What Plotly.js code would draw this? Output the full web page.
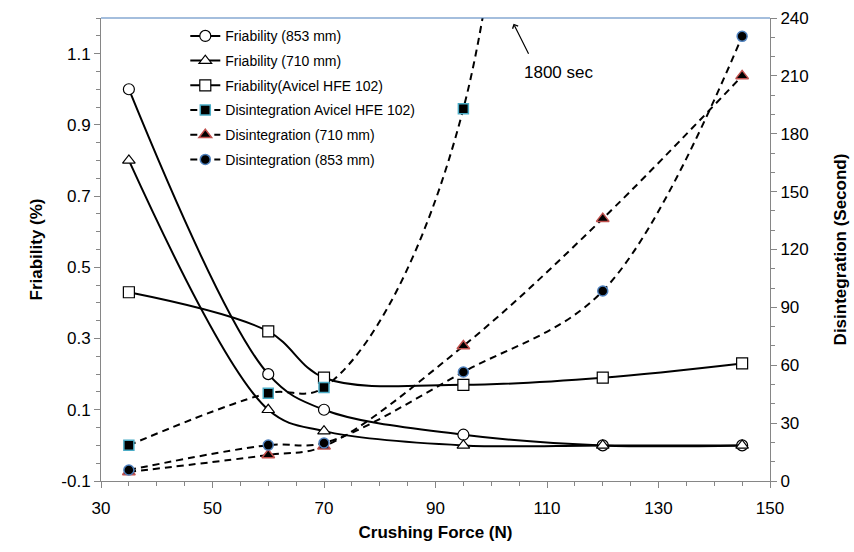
<!DOCTYPE html>
<html>
<head>
<meta charset="utf-8">
<script src="https://cdn.plot.ly/plotly-3.0.1.min.js"></script>
<style>html,body{margin:0;padding:0;background:#fff;}#chart{width:854px;height:552px;}</style>
</head>
<body>
<div id="chart"></div>
<script>
// Crushing force (N)
const force = [35, 60, 70, 95, 120, 145];
// Friability (%) - left axis
const friab853 = [1.0, 0.2, 0.1, 0.03, 0.0, 0.0];
const friab710 = [0.8, 0.1, 0.04, 0.0, 0.0, 0.0];
const friabAvicel = [0.43, 0.32, 0.19, 0.17, 0.19, 0.23];
// Disintegration (Second) - right axis
const forceDisAvicel = [35, 60, 70, 95, 120];
const disAvicel = [18.5, 45.5, 48.5, 193, 1800];
const dis710 = [4.7, 13.5, 18, 70, 136, 210];
const dis853 = [5.7, 18.6, 19.7, 56.5, 98.5, 230.5];

// Left axis tick labels
const yTickVals = [-0.1, 0.1, 0.3, 0.5, 0.7, 0.9, 1.1];
const yTickText = ['-0.1', '0.1', '0.3', '0.5', '0.7', '0.9', '1.1'];

const names = [
  'Friability (853 mm)',
  'Friability (710 mm)',
  'Friability(Avicel HFE 102)',
  'Disintegration Avicel HFE 102)',
  'Disintegration (710 mm)',
  'Disintegration (853 mm)'
];

const FONT = 'Liberation Sans, Arial, sans-serif';
const solid = {color: '#000', width: 2, shape: 'spline', smoothing: 1};
const dashed = {color: '#000', width: 2, shape: 'spline', smoothing: 1, dash: '7px,5px'};

const traces = [
  {x: force, y: friab853, name: names[0], mode: 'lines+markers', line: solid,
   marker: {symbol: 'circle', size: 11, color: '#fff', line: {color: '#000', width: 1.2}}},
  {x: force, y: friab710, name: names[1], mode: 'lines+markers', line: solid,
   marker: {symbol: 'triangle-up', size: 11, color: '#fff', line: {color: '#000', width: 1.2}}},
  {x: force, y: friabAvicel, name: names[2], mode: 'lines+markers', line: solid,
   marker: {symbol: 'square', size: 11, color: '#fff', line: {color: '#000', width: 1.2}}},
  {x: forceDisAvicel, y: disAvicel, name: names[3], mode: 'lines+markers', line: dashed, yaxis: 'y2',
   marker: {symbol: 'square', size: 10, color: '#000', line: {color: '#4bacc6', width: 1.5}}},
  {x: force, y: dis710, name: names[4], mode: 'lines+markers', line: dashed, yaxis: 'y2',
   marker: {symbol: 'triangle-up', size: 11, color: '#000', line: {color: '#c0504d', width: 1.5}}},
  {x: force, y: dis853, name: names[5], mode: 'lines+markers', line: dashed, yaxis: 'y2',
   marker: {symbol: 'circle', size: 10, color: '#000', line: {color: '#4f81bd', width: 1.5}}}
];
traces.forEach((t, i) => { t.legendgroup = 'g' + i; });

const axisCommon = {
  showgrid: false, zeroline: false, showline: true, linecolor: '#868686', linewidth: 1,
  ticks: 'outside', ticklen: 6, tickcolor: '#868686', tickwidth: 1,
  tickfont: {family: FONT, size: 17, color: '#000'}
};

const layout = {
  width: 854, height: 552,
  margin: {l: 101, r: 84, t: 18, b: 71},
  paper_bgcolor: '#fff', plot_bgcolor: '#fff',
  font: {family: FONT, color: '#000'},
  showlegend: true,
  legend: {x: 0.126, y: 0.995, xanchor: 'left', yanchor: 'top', bgcolor: 'rgba(0,0,0,0)',
           font: {family: FONT, size: 14, color: '#000'}, tracegroupgap: 3.5},
  xaxis: Object.assign({}, axisCommon, {
    range: [30, 150], tick0: 30, dtick: 20, ticklabelstandoff: 6,
    minor: {dtick: 5, tick0: 30, ticks: 'outside', ticklen: 4, tickcolor: '#868686'},
    title: {text: 'Crushing Force (N)', font: {family: FONT, size: 17, color: '#000', weight: 'bold'}, standoff: 8}
  }),
  yaxis: Object.assign({}, axisCommon, {
    range: [-0.1, 1.2], tickmode: 'array', tickvals: yTickVals, ticktext: yTickText,
    minor: {dtick: 0.05, tick0: -0.1, ticks: 'outside', ticklen: 4, tickcolor: '#868686'},
    title: {text: 'Friability (%)', font: {family: FONT, size: 17, color: '#000', weight: 'bold'}, standoff: 14}
  }),
  yaxis2: Object.assign({}, axisCommon, {
    overlaying: 'y', side: 'right',
    range: [0, 240], tick0: 0, dtick: 30,
    minor: {dtick: 10, tick0: 0, ticks: 'outside', ticklen: 4, tickcolor: '#868686'},
    title: {text: 'Disintegration (Second)', font: {family: FONT, size: 17, color: '#000', weight: 'bold'}, standoff: 26}
  }),
  shapes: [
    {type: 'line', xref: 'paper', yref: 'paper', x0: 0, x1: 1, y0: 1, y1: 1,
     line: {color: '#4a7ebb', width: 1.2}}
  ],
  annotations: [
    {x: 104, y: 237, xref: 'x', yref: 'y2', text: ' ', showarrow: true,
     ax: 16, ay: 32, arrowhead: 4, arrowsize: 1, arrowwidth: 1.2, arrowcolor: '#000',
     font: {size: 1}},
    {x: 112, y: 212, xref: 'x', yref: 'y2', text: '1800 sec', showarrow: false,
     font: {family: FONT, size: 17, color: '#000'}}
  ]
};

Plotly.newPlot('chart', traces, layout, {displayModeBar: false, staticPlot: true});
</script>
</body>
</html>
